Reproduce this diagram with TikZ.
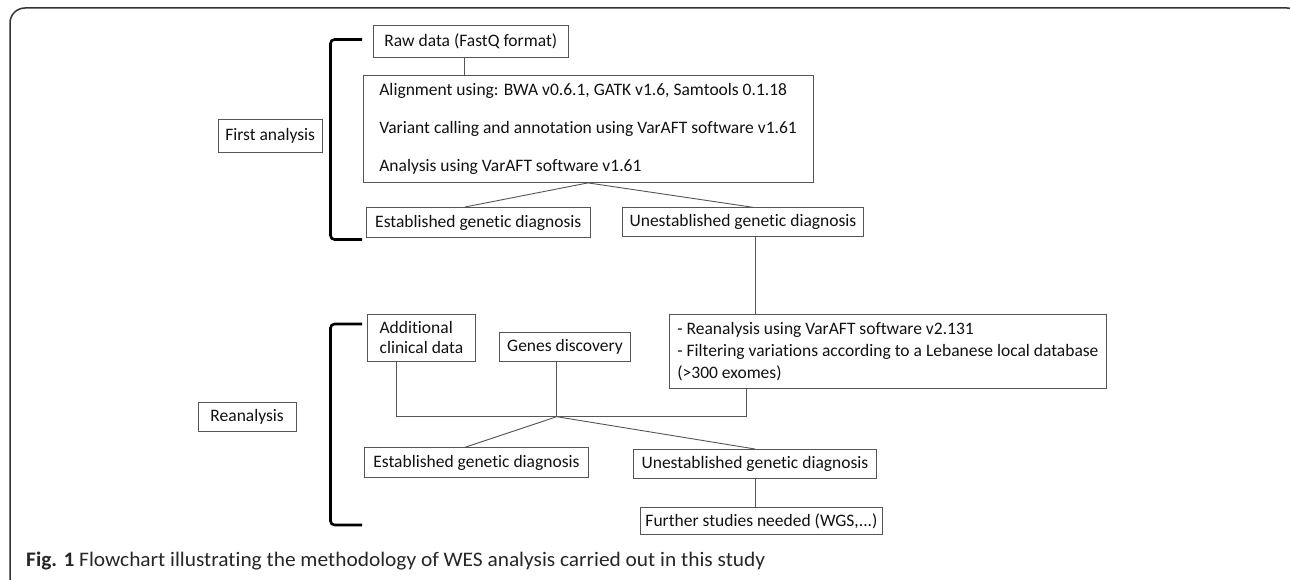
\documentclass[tikz,border=0pt]{standalone}
\usepackage{graphicx}
\usepackage{fontspec}
\setmainfont{Carlito}[RawFeature=-liga]
\usetikzlibrary{calc}
\definecolor{ln}{HTML}{555555}
\definecolor{tx}{HTML}{111111}
\tikzset{
  bx/.style={draw=ln, line width=0.9pt, anchor=north west, inner sep=2pt, align=left, text=tx,
             font=\fontsize{17.5}{21}\selectfont},
  cn/.style={draw=ln, line width=0.9pt},
  brk/.style={draw=black, line width=2.6pt, rounded corners=4pt},
  framebox/.style={draw=black!80, line width=1.5pt, rounded corners=15pt},
}
\begin{document}
\begin{tikzpicture}[x=1pt,y=-1pt]
\useasboundingbox (0,0) rectangle (1290,580);
\draw[framebox] (10,8) rectangle (1302,594);

% boxes
\node[bx, minimum width=195.3pt, minimum height=32pt] (raw) at (372.7,25) {Raw data (FastQ format)};
\node[bx, minimum width=450pt, minimum height=107pt, font=\fontsize{17.5}{38}\selectfont] (align) at (362.7,75)
  {Alignment using: BWA v0.6.1, GATK v1.6, Samtools 0.1.18\\Variant calling and annotation using VarAFT software v1.61\\Analysis using VarAFT software v1.61};
\node[bx, minimum width=104pt, minimum height=33pt] (first) at (217.7,119) {First analysis};
\node[bx, minimum width=224.3pt, minimum height=30pt] (est1) at (365.7,207) {Established genetic diagnosis};
\node[bx, minimum width=241.6pt, minimum height=28.7pt] (unest1) at (621.7,207.3) {Unestablished genetic diagnosis};
\node[bx, minimum width=437pt, minimum height=74pt, font=\fontsize{17.5}{21.7}\selectfont] (rean) at (669,314)
  {- Reanalysis using VarAFT software v2.131\\- Filtering variations according to a Lebanese local database\\(>300 exomes)};
\node[bx, minimum width=108pt, minimum height=46.7pt, font=\fontsize{17.5}{20}\selectfont] (add) at (367,314) {Additional\\clinical data};
\node[bx, minimum width=131pt, minimum height=29pt] (genes) at (499,331.7) {Genes discovery};
\node[bx, minimum width=98pt, minimum height=29pt] (reanal) at (197.7,401.7) {Reanalysis};
\node[bx, minimum width=224pt, minimum height=29.7pt] (est2) at (364,447.3) {Established genetic diagnosis};
\node[bx, minimum width=243pt, minimum height=28.7pt] (unest2) at (633,449) {Unestablished genetic diagnosis};
\node[bx, minimum width=242pt, minimum height=27pt] (further) at (640,507) {Further studies needed (WGS,...)};

% helper coordinates
\coordinate (xa) at (464,0);
\coordinate (xb) at (588,0);
\coordinate (xc) at (465,0);
\coordinate (xd) at (753,0);
\coordinate (xe) at (755,0);
\coordinate (xf) at (396.7,0);
\coordinate (xg) at (746.7,0);
\coordinate (J) at (556.7,416.7);

% connectors
\draw[cn] (raw.south -| xa) -- (align.north -| xa);
\draw[cn] (est1.north -| xc) -- (align.south -| xb) -- (unest1.north -| xd);
\draw[cn] (unest1.south -| xe) -- (rean.north -| xe);
\draw[cn] (add.south -| xf) |- (J) -| (rean.south -| xg);
\draw[cn] (genes.south -| J) -- (J);
\draw[cn] (est2.north -| xc) -- (J) -- (unest2.north -| xe);
\draw[cn] (unest2.south -| xe) -- (further.north -| xe);

% brackets
\draw[brk] (362,39.5) -- (330.5,39.5) -- (330.5,239.5) -- (362,239.5);
\draw[brk] (362,324) -- (330.5,324) -- (330.5,525) -- (362,525);

% caption
\node[anchor=base west, inner sep=0pt, text=black!85] (cap) at (26,566)
  {\resizebox{739pt}{14.5pt}{\fontsize{20}{24}\selectfont\textbf{Fig. 1} Flowchart illustrating the methodology of WES analysis carried out in this study}};
\end{tikzpicture}
\end{document}
